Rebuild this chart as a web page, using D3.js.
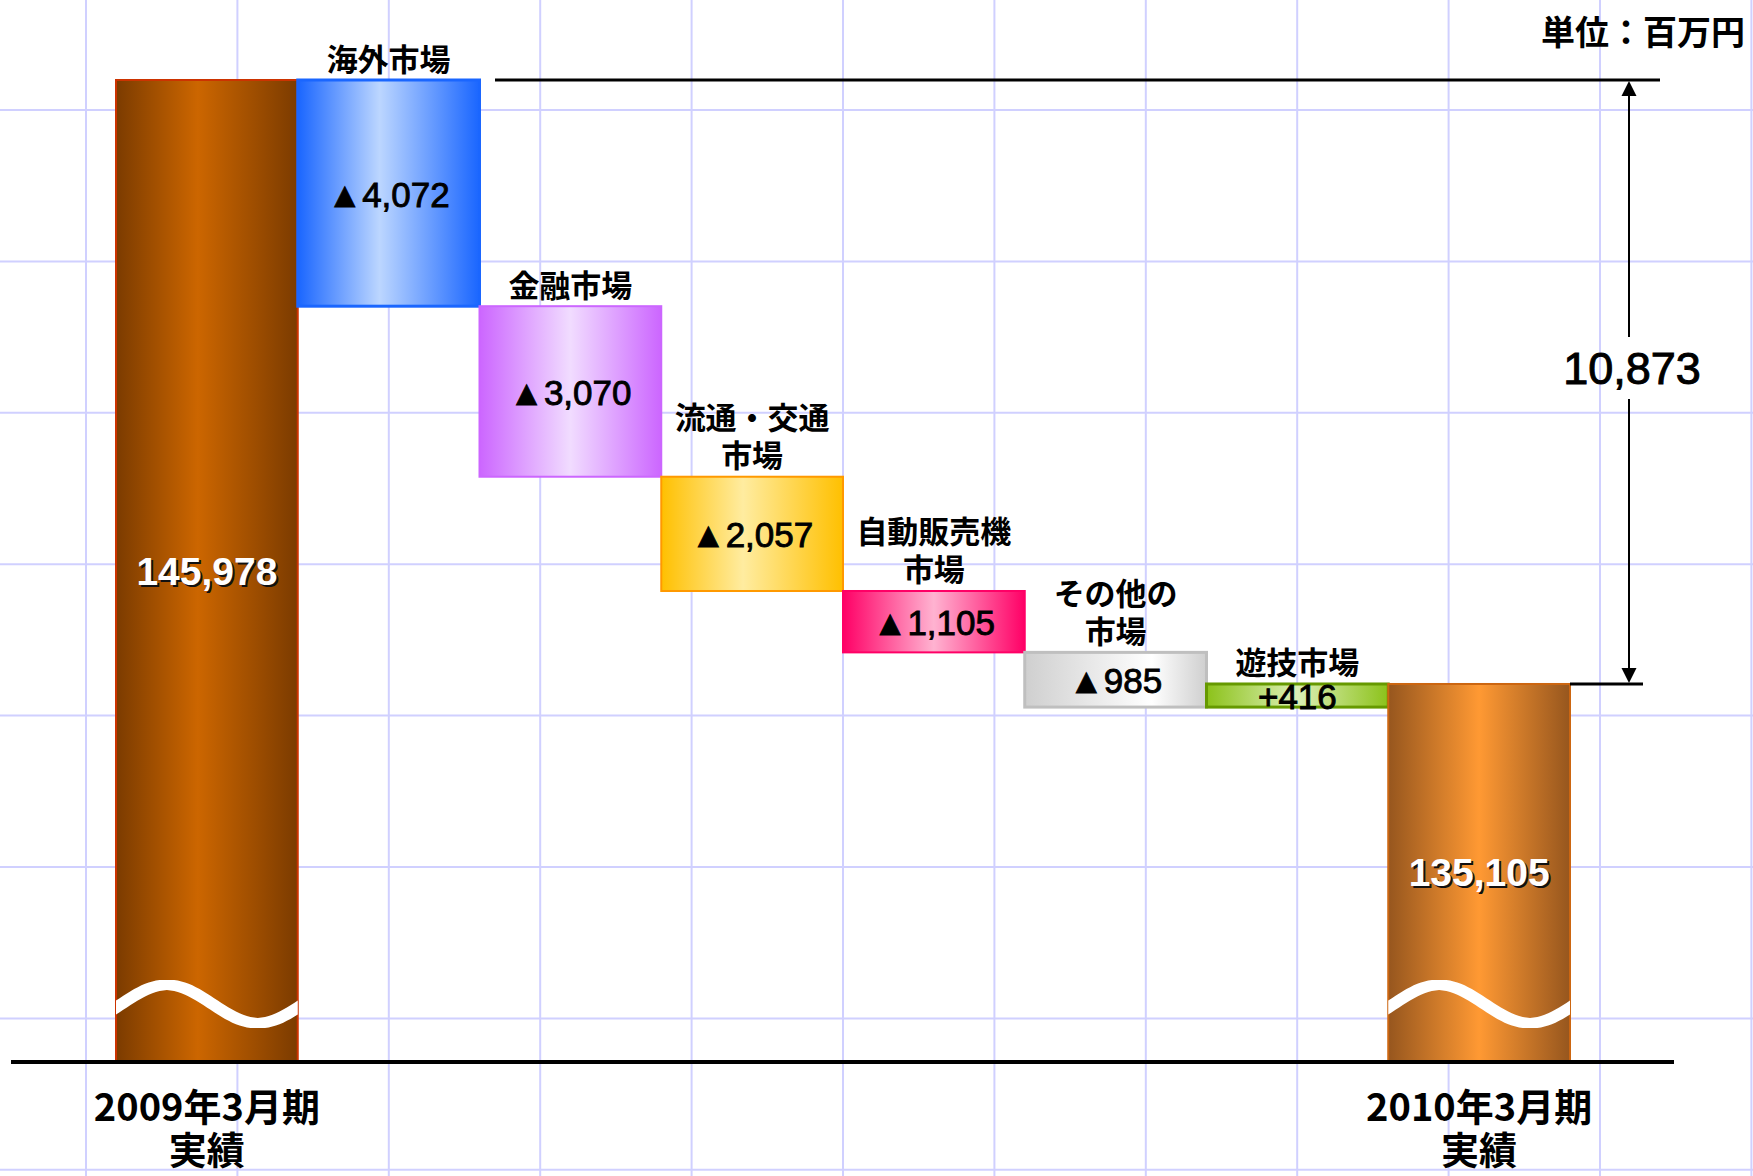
<!DOCTYPE html>
<html><head><meta charset="utf-8">
<script src="https://cdn.jsdelivr.net/npm/d3@7"></script>
<style>html,body{margin:0;padding:0;background:#fff;overflow:hidden}</style>
</head><body>
<svg id="chart" width="1753" height="1176"></svg>
<script>
// ---------- data ----------
const categories = ["2009年3月期\n実績", "海外市場", "金融市場", "流通・交通\n市場", "自動販売機\n市場", "その他の\n市場", "遊技市場", "2010年3月期\n実績"];
const startValue = 145978;
const endValue = 135105;
const deltas = [-4072, -3070, -2057, -1105, -985, 416];
const netChange = 10873;
const unitLabel = "単位：百万円";
const axisBreakBase = 128300; // value at the (broken) baseline

// ---------- styles ----------
const palettes = [
  {edge: "#7b3b00", mid: "#cc6600", at: 0.45, stroke: "#cc3300", sw: 2},
  {edge: "#1a66ff", mid: "#bcd6ff", at: 0.45, stroke: "#1a66ff", sw: 3},
  {edge: "#cc66ff", mid: "#f1dcff", at: 0.5, stroke: "#cc66ff", sw: 2},
  {edge: "#ffc000", mid: "#ffeca0", at: 0.45, stroke: "#ff9900", sw: 2},
  {edge: "#ff0066", mid: "#ffb3d1", at: 0.5, stroke: "#ff0066", sw: 2},
  {edge: "#cfcfcf", mid: "#ffffff", at: 0.7, stroke: "#bfbfbf", sw: 3},
  {edge: "#8cc21a", mid: "#dcefb6", at: 0.5, stroke: "#669900", sw: 3},
  {edge: "#96561e", mid: "#ff9933", at: 0.5, stroke: "#cc6611", sw: 2}
];

const W = 1753, H = 1176;
const svg = d3.select("#chart");
const defs = svg.append("defs");

// ---------- build waterfall records ----------
const rows = [];
rows.push({cat: categories[0], lo: axisBreakBase, hi: startValue, total: true, value: startValue});
let run = startValue;
deltas.forEach((d, i) => {
  const prev = run; run = run + d;
  rows.push({cat: categories[i + 1], lo: Math.min(prev, run), hi: Math.max(prev, run), total: false, value: d});
});
rows.push({cat: categories[7], lo: axisBreakBase, hi: endValue, total: true, value: endValue});

// ---------- scales ----------
const x = d3.scaleBand().domain(categories).range([116, 1570]).padding(0);
const y = d3.scaleLinear().domain([axisBreakBase, startValue]).range([1062, 80]);
const fmt = d3.format(",");

// ---------- background grid ----------
const gridStep = 151.4;
const grid = svg.append("g");
grid.selectAll("line.v").data(d3.range(86, W + 2, gridStep)).join("line")
  .attr("x1", d => d).attr("x2", d => d).attr("y1", 0).attr("y2", H)
  .attr("stroke", "#d0d0ff").attr("stroke-width", 2);
grid.selectAll("line.h").data(d3.range(110, H + 2, gridStep)).join("line")
  .attr("y1", d => d).attr("y2", d => d).attr("x1", 0).attr("x2", W)
  .attr("stroke", "#d0d0ff").attr("stroke-width", 2);

// ---------- gradients ----------
palettes.forEach((p, i) => {
  const g = defs.append("linearGradient").attr("id", "g" + i)
    .attr("x1", 0).attr("x2", 1).attr("y1", 0).attr("y2", 0);
  g.append("stop").attr("offset", 0).attr("stop-color", p.edge);
  g.append("stop").attr("offset", p.at).attr("stop-color", p.mid);
  g.append("stop").attr("offset", 1).attr("stop-color", p.edge);
});

// ---------- bars ----------
svg.append("g").selectAll("rect").data(rows).join("rect")
  .attr("x", d => x(d.cat)).attr("width", x.bandwidth())
  .attr("y", d => y(d.hi)).attr("height", d => y(d.lo) - y(d.hi))
  .attr("fill", (d, i) => `url(#g${i})`)
  .attr("stroke", (d, i) => palettes[i].stroke)
  .attr("stroke-width", (d, i) => palettes[i].sw);

// ---------- break waves ----------
const waveArea = d3.area();
rows.filter(d => d.total).forEach(d => {
  const x0 = x(d.cat), w = x.bandwidth(), c = 1004;
  const pts = d3.range(0, 1.0001, 0.02).map(t => {
    const yc = c - 19 * Math.sin(2 * Math.PI * (t - 0.03));
    const half = 5 + 2 * Math.abs(Math.cos(2 * Math.PI * (t - 0.03)));
    return [x0 + t * w, yc - half, yc + half];
  });
  svg.append("path").attr("d", waveArea.x(p => p[0]).y0(p => p[1]).y1(p => p[2])(pts))
    .attr("fill", "#fff");
});

// ---------- baseline ----------
svg.append("line").attr("x1", 11).attr("x2", 1674).attr("y1", y(axisBreakBase)).attr("y2", y(axisBreakBase))
  .attr("stroke", "#000").attr("stroke-width", 4);

// ---------- value labels ----------
const numFont = "'Liberation Sans', Arial, 'DejaVu Sans', sans-serif";
const cjkFont = "'Noto Sans CJK JP', 'Noto Sans', sans-serif";
rows.forEach(d => {
  const cx = x(d.cat) + x.bandwidth() / 2;
  const cy = (y(d.lo) + y(d.hi)) / 2;
  if (d.total) {
    const t = fmt(d.value);
    svg.append("text").attr("x", cx + 2).attr("y", cy + 2).attr("text-anchor", "middle")
      .attr("dominant-baseline", "central").attr("font-family", numFont).attr("font-size", 39)
      .attr("font-weight", 700).attr("fill", "#111").text(t);
    svg.append("text").attr("x", cx).attr("y", cy).attr("text-anchor", "middle")
      .attr("dominant-baseline", "central").attr("font-family", numFont).attr("font-size", 39)
      .attr("font-weight", 700).attr("fill", "#fff").text(t);
  } else {
    const t = (d.value < 0 ? "▲" : "+") + fmt(Math.abs(d.value));
    svg.append("text").attr("x", cx).attr("y", cy + 1).attr("text-anchor", "middle")
      .attr("dominant-baseline", "central").attr("font-family", numFont).attr("font-size", 35)
      .attr("fill", "#000").attr("stroke", "#000").attr("stroke-width", 0.9).text(t);
  }
});

// ---------- category labels ----------
rows.forEach(d => {
  const cx = x(d.cat) + x.bandwidth() / 2;
  const lines = d.cat.split("\n");
  if (d.total) {
    const t = svg.append("text").attr("text-anchor", "middle").attr("font-family", cjkFont)
      .attr("font-weight", 700).attr("font-size", 38).attr("fill", "#000");
    lines.forEach((ln, k) => t.append("tspan").attr("x", cx).attr("y", 1104 + k * 43)
      .attr("dominant-baseline", "central").text(ln));
  } else {
    const lastY = y(d.hi) - 23;
    const t = svg.append("text").attr("text-anchor", "middle").attr("font-family", cjkFont)
      .attr("font-weight", 700).attr("font-size", 31).attr("fill", "#000");
    lines.forEach((ln, k) => t.append("tspan").attr("x", cx)
      .attr("y", lastY - (lines.length - 1 - k) * 38)
      .attr("dominant-baseline", "central").text(ln));
  }
});

// ---------- unit label ----------
svg.append("text").attr("x", 1745).attr("y", 30).attr("text-anchor", "end")
  .attr("dominant-baseline", "central").attr("font-family", cjkFont).attr("font-weight", 700)
  .attr("font-size", 34).text(unitLabel);

// ---------- net change annotation ----------
const yTop = y(startValue), yBot = y(endValue);
const ax = 1629;
svg.append("line").attr("x1", 495).attr("x2", 1660).attr("y1", yTop).attr("y2", yTop)
  .attr("stroke", "#000").attr("stroke-width", 3);
svg.append("line").attr("x1", x.range()[1]).attr("x2", 1643).attr("y1", yBot).attr("y2", yBot)
  .attr("stroke", "#000").attr("stroke-width", 3);
const labelY = (yTop + yBot) / 2 - 13;
svg.append("line").attr("x1", ax).attr("x2", ax).attr("y1", yTop + 12).attr("y2", labelY - 32)
  .attr("stroke", "#000").attr("stroke-width", 2);
svg.append("line").attr("x1", ax).attr("x2", ax).attr("y1", labelY + 30).attr("y2", yBot - 12)
  .attr("stroke", "#000").attr("stroke-width", 2);
svg.append("path").attr("d", `M${ax},${yTop + 1} L${ax - 7.5},${yTop + 16} L${ax + 7.5},${yTop + 16} Z`).attr("fill", "#000");
svg.append("path").attr("d", `M${ax},${yBot - 1} L${ax - 7.5},${yBot - 16} L${ax + 7.5},${yBot - 16} Z`).attr("fill", "#000");
svg.append("text").attr("x", ax + 3).attr("y", labelY).attr("text-anchor", "middle")
  .attr("dominant-baseline", "central").attr("font-family", numFont).attr("font-size", 45)
  .attr("fill", "#000").attr("stroke", "#000").attr("stroke-width", 1).text(fmt(netChange));
</script>
</body></html>
